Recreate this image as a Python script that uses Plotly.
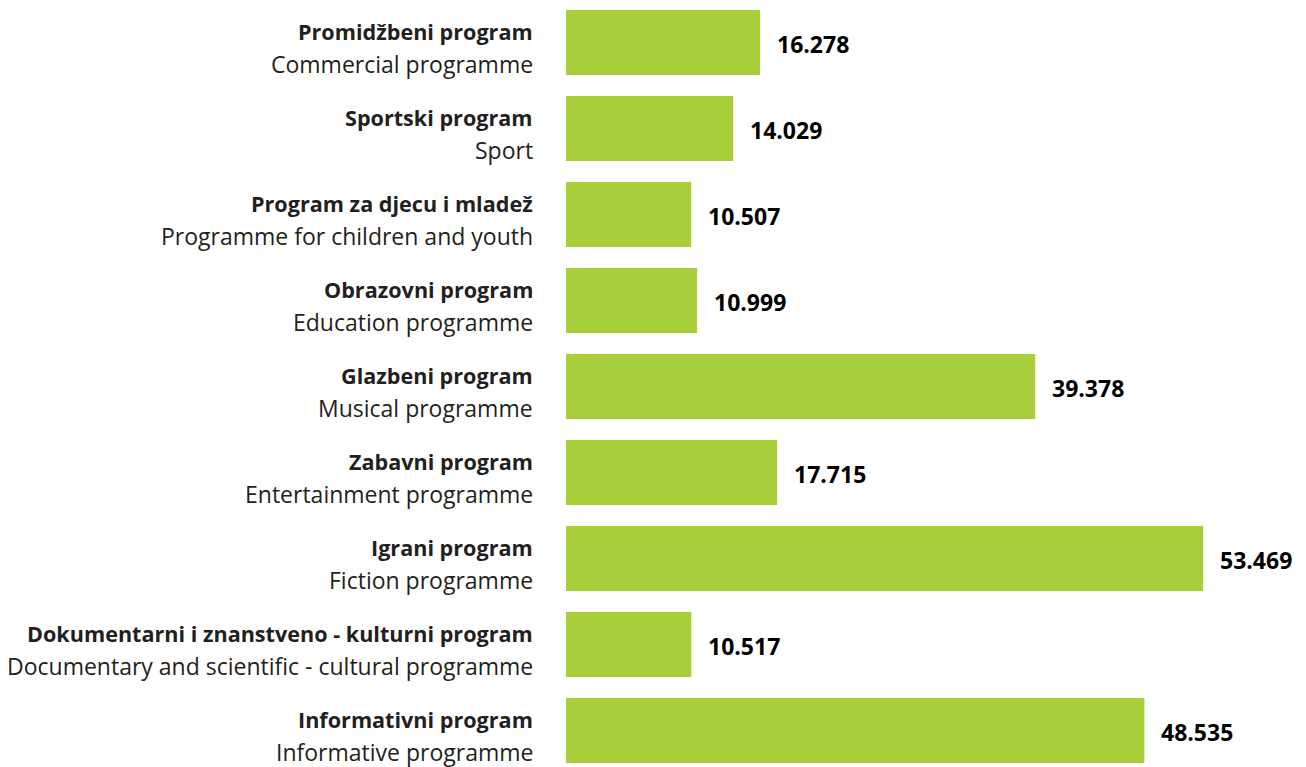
import plotly.graph_objects as go

categories_hr = [
    "Promidžbeni program",
    "Sportski program",
    "Program za djecu i mladež",
    "Obrazovni program",
    "Glazbeni program",
    "Zabavni program",
    "Igrani program",
    "Dokumentarni i znanstveno - kulturni program",
    "Informativni program",
]
categories_en = [
    "Commercial programme",
    "Sport",
    "Programme for children and youth",
    "Education programme",
    "Musical programme",
    "Entertainment programme",
    "Fiction programme",
    "Documentary and scientific - cultural programme",
    "Informative programme",
]
values = [16278, 14029, 10507, 10999, 39378, 17715, 53469, 10517, 48535]

GREEN = "#A8CF3A"
FONT = "Open Sans"

ypos = list(range(len(values)))

fig = go.Figure(
    go.Bar(
        x=values,
        y=ypos,
        orientation="h",
        marker=dict(color=GREEN, line=dict(width=0)),
        width=0.756,
        hoverinfo="skip",
    )
)

annotations = []
for i, (hr, en, v) in enumerate(zip(categories_hr, categories_en, values)):
    annotations.append(dict(
        x=0, y=i, xref="paper", yref="y", xanchor="right", yanchor="middle",
        xshift=-31, yshift=10.5, text=f"<b>{hr}</b>", showarrow=False, align="right",
        font=dict(family=FONT, size=21.6, color="#231F20"),
    ))
    annotations.append(dict(
        x=0, y=i, xref="paper", yref="y", xanchor="right", yanchor="middle",
        xshift=-31, yshift=-21.5, text=en, showarrow=False, align="right",
        font=dict(family=FONT, size=23, color="#231F20"),
    ))
    annotations.append(dict(
        x=v, y=i, xref="x", yref="y", xanchor="left", yanchor="middle",
        xshift=15, yshift=-1.5, text=f"<b>{v:,}</b>".replace(",", "."), showarrow=False,
        font=dict(family=FONT, size=23, color="#000000"),
    ))

fig.update_layout(
    width=1306,
    height=767,
    margin=dict(l=566, r=25, t=0, b=0),
    plot_bgcolor="white",
    paper_bgcolor="white",
    showlegend=False,
    annotations=annotations,
    xaxis=dict(range=[0, 60000], visible=False, fixedrange=True),
    yaxis=dict(range=[8.425, -0.494], visible=False, fixedrange=True),
)

fig.write_html(
    "out.html",
    config={"displayModeBar": False},
    post_script="document.body.style.margin='0';document.body.style.overflow='hidden';",
)
